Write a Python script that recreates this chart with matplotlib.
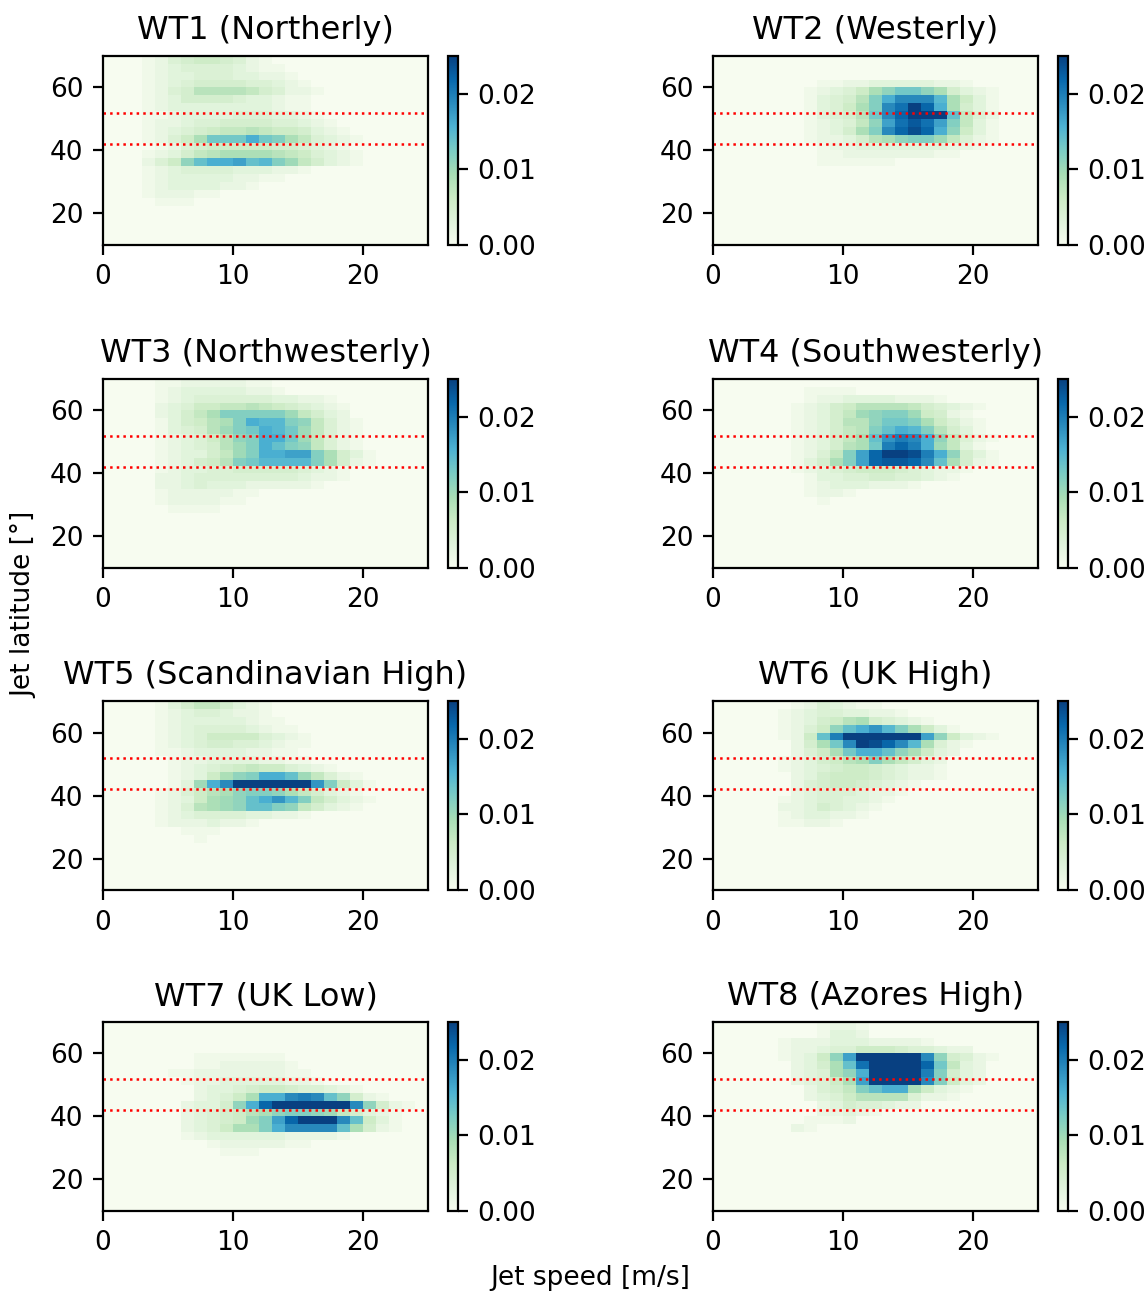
import numpy as np
import matplotlib.pyplot as plt

# jet speed bins (m/s) and jet latitude bins (deg, listed from the top row down)
speed_edges = np.arange(0, 26, 1)
lat_edges = np.arange(70, 7.5, -2.5)

titles = ["WT1 (Northerly)", "WT2 (Westerly)", "WT3 (Northwesterly)",
          "WT4 (Southwesterly)", "WT5 (Scandinavian High)", "WT6 (UK High)",
          "WT7 (UK Low)", "WT8 (Azores High)"]

# density per cell, in units of 0.001; rows run from 67.5-70N down to 10-12.5N
wt1 = [
    [0,0,0,1,2, 4,5,6,6,5, 4,2,1,0,0, 0,0,0,0,0, 0,0,0,0,0],
    [0,0,0,1,2, 3,4,4,4,4, 3,2,1,1,0, 0,0,0,0,0, 0,0,0,0,0],
    [0,0,0,1,2, 3,3,4,4,4, 3,3,2,2,1, 0,0,0,0,0, 0,0,0,0,0],
    [0,0,0,1,2, 3,4,5,5,5, 5,4,4,3,2, 1,0,0,0,0, 0,0,0,0,0],
    [0,0,0,1,2, 4,5,8,8,8, 8,7,5,4,2, 2,1,0,0,0, 0,0,0,0,0],
    [0,0,0,1,2, 3,5,5,5,5, 4,3,3,2,1, 1,0,0,0,0, 0,0,0,0,0],
    [0,0,0,1,2, 3,3,3,3,3, 3,3,3,2,1, 1,0,0,0,0, 0,0,0,0,0],
    [0,0,0,1,1, 2,3,3,3,3, 4,4,4,3,3, 2,1,0,0,0, 0,0,0,0,0],
    [0,0,0,1,2, 2,3,4,4,5, 5,5,5,4,4, 3,2,1,0,0, 0,0,0,0,0],
    [0,0,0,1,2, 3,4,5,6,7, 7,8,7,6,6, 5,3,2,1,0, 0,0,0,0,0],
    [0,0,0,1,2, 4,6,9,13,13, 13,16,13,12,9, 7,4,3,2,1, 0,0,0,0,0],
    [0,0,0,0,1, 2,4,5,6,6, 6,6,6,5,5, 4,3,2,1,0, 0,0,0,0,0],
    [0,0,0,1,2, 3,5,7,8,9, 9,9,9,8,7, 6,4,3,2,1, 0,0,0,0,0],
    [0,0,0,2,4, 6,11,14,16,16, 17,14,15,12,10, 7,5,3,2,1, 0,0,0,0,0],
    [0,0,0,1,2, 3,4,4,4,4, 3,3,3,2,2, 1,0,0,0,0, 0,0,0,0,0],
    [0,0,0,1,2, 3,3,3,3,3, 2,2,1,1,0, 0,0,0,0,0, 0,0,0,0,0],
    [0,0,0,1,2, 3,3,3,3,2, 2,1,0,0,0, 0,0,0,0,0, 0,0,0,0,0],
    [0,0,0,1,2, 2,2,1,1,0, 0,0,0,0,0, 0,0,0,0,0, 0,0,0,0,0],
    [0,0,0,0,1, 1,1,0,0,0, 0,0,0,0,0, 0,0,0,0,0, 0,0,0,0,0],
    [0,0,0,0,0, 0,0,0,0,0, 0,0,0,0,0, 0,0,0,0,0, 0,0,0,0,0],
    [0,0,0,0,0, 0,0,0,0,0, 0,0,0,0,0, 0,0,0,0,0, 0,0,0,0,0],
    [0,0,0,0,0, 0,0,0,0,0, 0,0,0,0,0, 0,0,0,0,0, 0,0,0,0,0],
    [0,0,0,0,0, 0,0,0,0,0, 0,0,0,0,0, 0,0,0,0,0, 0,0,0,0,0],
    [0,0,0,0,0, 0,0,0,0,0, 0,0,0,0,0, 0,0,0,0,0, 0,0,0,0,0],
]

wt2 = [
    [0,0,0,0,0, 0,0,0,0,0, 0,0,0,0,0, 0,0,0,0,0, 0,0,0,0,0],
    [0,0,0,0,0, 0,0,0,0,0, 0,0,0,0,0, 0,0,0,0,0, 0,0,0,0,0],
    [0,0,0,0,0, 0,0,0,0,0, 0,0,0,0,0, 0,0,0,0,0, 0,0,0,0,0],
    [0,0,0,0,0, 0,0,0,1,1, 2,2,3,3,3, 3,3,2,2,1, 0,0,0,0,0],
    [0,0,0,0,0, 0,0,1,2,3, 4,6,9,11,13, 13,11,9,5,3, 2,1,0,0,0],
    [0,0,0,0,0, 0,0,1,3,4, 5,8,12,16,19, 19,19,15,9,6, 3,1,0,0,0],
    [0,0,0,0,0, 0,0,1,3,4, 6,9,12,19,21, 26,22,16,9,5, 3,1,0,0,0],
    [0,0,0,0,0, 0,0,1,3,4, 5,8,13,19,22, 27,27,26,14,7, 4,2,0,0,0],
    [0,0,0,0,0, 0,0,1,2,3, 4,7,11,17,21, 23,21,17,12,7, 3,1,0,0,0],
    [0,0,0,0,0, 0,0,1,2,3, 5,9,12,19,22, 24,22,16,11,6, 3,1,0,0,0],
    [0,0,0,0,0, 0,0,1,2,2, 3,5,8,9,11, 12,12,10,7,4, 2,1,0,0,0],
    [0,0,0,0,0, 0,0,0,1,2, 2,3,3,3,3, 3,3,3,2,2, 1,0,0,0,0],
    [0,0,0,0,0, 0,0,0,1,1, 2,2,2,2,2, 2,2,1,1,0, 0,0,0,0,0],
    [0,0,0,0,0, 0,0,0,1,1, 1,1,1,1,0, 0,0,0,0,0, 0,0,0,0,0],
    [0,0,0,0,0, 0,0,0,0,0, 0,0,0,0,0, 0,0,0,0,0, 0,0,0,0,0],
    [0,0,0,0,0, 0,0,0,0,0, 0,0,0,0,0, 0,0,0,0,0, 0,0,0,0,0],
    [0,0,0,0,0, 0,0,0,0,0, 0,0,0,0,0, 0,0,0,0,0, 0,0,0,0,0],
    [0,0,0,0,0, 0,0,0,0,0, 0,0,0,0,0, 0,0,0,0,0, 0,0,0,0,0],
    [0,0,0,0,0, 0,0,0,0,0, 0,0,0,0,0, 0,0,0,0,0, 0,0,0,0,0],
    [0,0,0,0,0, 0,0,0,0,0, 0,0,0,0,0, 0,0,0,0,0, 0,0,0,0,0],
    [0,0,0,0,0, 0,0,0,0,0, 0,0,0,0,0, 0,0,0,0,0, 0,0,0,0,0],
    [0,0,0,0,0, 0,0,0,0,0, 0,0,0,0,0, 0,0,0,0,0, 0,0,0,0,0],
    [0,0,0,0,0, 0,0,0,0,0, 0,0,0,0,0, 0,0,0,0,0, 0,0,0,0,0],
    [0,0,0,0,0, 0,0,0,0,0, 0,0,0,0,0, 0,0,0,0,0, 0,0,0,0,0],
]

wt3 = [
    [0,0,0,0,1, 1,2,2,2,2, 2,1,1,0,0, 0,0,0,0,0, 0,0,0,0,0],
    [0,0,0,0,1, 2,3,3,3,3, 3,2,2,1,0, 0,0,0,0,0, 0,0,0,0,0],
    [0,0,0,0,1, 2,3,4,4,4, 4,4,4,3,3, 2,2,1,0,0, 0,0,0,0,0],
    [0,0,0,0,2, 3,4,6,6,7, 7,8,7,6,5, 4,3,2,1,0, 0,0,0,0,0],
    [0,0,0,0,2, 3,5,7,9,12, 12,12,12,12,10, 7,5,3,2,0, 0,0,0,0,0],
    [0,0,0,0,1, 3,5,6,8,9, 12,16,15,15,12, 11,7,4,2,1, 0,0,0,0,0],
    [0,0,0,0,1, 3,4,5,8,10, 12,13,16,15,13, 10,7,4,2,1, 0,0,0,0,0],
    [0,0,0,0,1, 2,3,4,6,8, 11,12,16,16,13, 10,7,4,2,1, 0,0,0,0,0],
    [0,0,0,0,1, 2,3,4,5,8, 10,12,16,14,12, 11,7,4,2,1, 0,0,0,0,0],
    [0,0,0,0,1, 2,3,3,5,7, 10,12,16,16,17, 17,12,9,5,3, 1,0,0,0,0],
    [0,0,0,0,1, 2,3,5,6,8, 12,13,15,15,15, 15,12,9,5,2, 1,0,0,0,0],
    [0,0,0,0,1, 2,3,3,4,4, 5,5,5,5,5, 4,3,2,1,0, 0,0,0,0,0],
    [0,0,0,0,2, 2,3,4,4,4, 4,4,4,4,4, 3,2,2,1,0, 0,0,0,0,0],
    [0,0,0,0,2, 2,3,4,3,3, 3,2,2,2,2, 2,1,0,0,0, 0,0,0,0,0],
    [0,0,0,0,1, 2,2,2,2,2, 1,1,0,0,0, 0,0,0,0,0, 0,0,0,0,0],
    [0,0,0,0,1, 2,2,2,2,1, 1,0,0,0,0, 0,0,0,0,0, 0,0,0,0,0],
    [0,0,0,0,0, 1,1,1,1,0, 0,0,0,0,0, 0,0,0,0,0, 0,0,0,0,0],
    [0,0,0,0,0, 0,0,0,0,0, 0,0,0,0,0, 0,0,0,0,0, 0,0,0,0,0],
    [0,0,0,0,0, 0,0,0,0,0, 0,0,0,0,0, 0,0,0,0,0, 0,0,0,0,0],
    [0,0,0,0,0, 0,0,0,0,0, 0,0,0,0,0, 0,0,0,0,0, 0,0,0,0,0],
    [0,0,0,0,0, 0,0,0,0,0, 0,0,0,0,0, 0,0,0,0,0, 0,0,0,0,0],
    [0,0,0,0,0, 0,0,0,0,0, 0,0,0,0,0, 0,0,0,0,0, 0,0,0,0,0],
    [0,0,0,0,0, 0,0,0,0,0, 0,0,0,0,0, 0,0,0,0,0, 0,0,0,0,0],
    [0,0,0,0,0, 0,0,0,0,0, 0,0,0,0,0, 0,0,0,0,0, 0,0,0,0,0],
]

wt4 = [
    [0,0,0,0,0, 0,0,0,0,0, 0,0,0,0,0, 0,0,0,0,0, 0,0,0,0,0],
    [0,0,0,0,0, 0,0,1,1,1, 1,0,0,0,0, 0,0,0,0,0, 0,0,0,0,0],
    [0,0,0,0,0, 0,0,1,2,2, 3,3,3,3,2, 2,2,1,0,0, 0,0,0,0,0],
    [0,0,0,0,0, 0,1,2,3,5, 6,8,8,8,8, 7,5,4,3,2, 1,0,0,0,0],
    [0,0,0,0,0, 0,1,2,3,5, 7,10,11,12,12, 10,6,5,2,1, 0,0,0,0,0],
    [0,0,0,0,0, 0,1,2,3,5, 8,8,11,13,13, 12,9,6,4,2, 1,0,0,0,0],
    [0,0,0,0,0, 0,1,2,3,5, 7,8,12,14,16, 15,12,8,5,3, 1,0,0,0,0],
    [0,0,0,0,0, 0,1,2,3,5, 7,9,14,18,20, 19,16,11,7,4, 2,1,0,0,0],
    [0,0,0,0,0, 0,1,2,3,5, 8,9,13,20,22, 20,16,10,7,3, 1,0,0,0,0],
    [0,0,0,0,0, 0,1,2,4,7, 12,17,22,26,27, 24,20,16,11,5, 3,1,0,0,0],
    [0,0,0,0,0, 0,1,3,5,9, 12,17,22,23,23, 22,19,14,9,5, 2,1,0,0,0],
    [0,0,0,0,0, 0,1,2,3,4, 5,6,6,6,5, 4,3,2,2,1, 0,0,0,0,0],
    [0,0,0,0,0, 0,0,1,3,3, 4,4,5,5,4, 4,3,2,1,0, 0,0,0,0,0],
    [0,0,0,0,0, 0,0,1,2,3, 3,3,2,2,2, 1,0,0,0,0, 0,0,0,0,0],
    [0,0,0,0,0, 0,0,1,2,2, 1,0,0,0,0, 0,0,0,0,0, 0,0,0,0,0],
    [0,0,0,0,0, 0,0,0,1,0, 0,0,0,0,0, 0,0,0,0,0, 0,0,0,0,0],
    [0,0,0,0,0, 0,0,0,0,0, 0,0,0,0,0, 0,0,0,0,0, 0,0,0,0,0],
    [0,0,0,0,0, 0,0,0,0,0, 0,0,0,0,0, 0,0,0,0,0, 0,0,0,0,0],
    [0,0,0,0,0, 0,0,0,0,0, 0,0,0,0,0, 0,0,0,0,0, 0,0,0,0,0],
    [0,0,0,0,0, 0,0,0,0,0, 0,0,0,0,0, 0,0,0,0,0, 0,0,0,0,0],
    [0,0,0,0,0, 0,0,0,0,0, 0,0,0,0,0, 0,0,0,0,0, 0,0,0,0,0],
    [0,0,0,0,0, 0,0,0,0,0, 0,0,0,0,0, 0,0,0,0,0, 0,0,0,0,0],
    [0,0,0,0,0, 0,0,0,0,0, 0,0,0,0,0, 0,0,0,0,0, 0,0,0,0,0],
    [0,0,0,0,0, 0,0,0,0,0, 0,0,0,0,0, 0,0,0,0,0, 0,0,0,0,0],
]

wt5 = [
    [0,0,0,0,1, 3,5,7,7,5, 3,2,1,0,0, 0,0,0,0,0, 0,0,0,0,0],
    [0,0,0,0,1, 2,3,4,4,3, 2,2,1,0,0, 0,0,0,0,0, 0,0,0,0,0],
    [0,0,0,0,1, 2,3,3,3,3, 3,2,1,1,0, 0,0,0,0,0, 0,0,0,0,0],
    [0,0,0,0,1, 2,3,4,4,4, 4,3,2,1,1, 0,0,0,0,0, 0,0,0,0,0],
    [0,0,0,0,1, 2,3,4,6,6, 6,6,4,3,2, 1,0,0,0,0, 0,0,0,0,0],
    [0,0,0,0,1, 2,3,4,5,5, 4,4,3,2,1, 1,0,0,0,0, 0,0,0,0,0],
    [0,0,0,0,1, 1,2,3,3,3, 3,2,2,1,1, 0,0,0,0,0, 0,0,0,0,0],
    [0,0,0,0,0, 1,2,2,3,3, 3,3,2,2,1, 1,0,0,0,0, 0,0,0,0,0],
    [0,0,0,0,0, 1,2,3,4,5, 6,7,6,6,4, 3,2,1,0,0, 0,0,0,0,0],
    [0,0,0,0,0, 1,2,3,6,9, 11,12,16,16,14, 10,7,4,2,1, 0,0,0,0,0],
    [0,0,0,0,0, 1,3,10,16,19, 25,26,26,26,26, 25,18,12,6,3, 1,0,0,0,0],
    [0,0,0,0,1, 2,4,6,8,9, 11,12,12,11,9, 7,5,3,2,1, 0,0,0,0,0],
    [0,0,0,0,1, 2,3,6,9,10, 11,14,16,18,15, 12,7,5,3,2, 1,0,0,0,0],
    [0,0,0,0,1, 2,4,8,9,10, 11,14,14,12,11, 7,5,3,2,1, 0,0,0,0,0],
    [0,0,0,0,1, 2,3,4,4,4, 4,3,3,2,2, 1,0,0,0,0, 0,0,0,0,0],
    [0,0,0,0,1, 2,2,2,3,2, 2,1,0,0,0, 0,0,0,0,0, 0,0,0,0,0],
    [0,0,0,0,0, 0,1,1,1,0, 0,0,0,0,0, 0,0,0,0,0, 0,0,0,0,0],
    [0,0,0,0,0, 0,0,1,0,0, 0,0,0,0,0, 0,0,0,0,0, 0,0,0,0,0],
    [0,0,0,0,0, 0,0,0,0,0, 0,0,0,0,0, 0,0,0,0,0, 0,0,0,0,0],
    [0,0,0,0,0, 0,0,0,0,0, 0,0,0,0,0, 0,0,0,0,0, 0,0,0,0,0],
    [0,0,0,0,0, 0,0,0,0,0, 0,0,0,0,0, 0,0,0,0,0, 0,0,0,0,0],
    [0,0,0,0,0, 0,0,0,0,0, 0,0,0,0,0, 0,0,0,0,0, 0,0,0,0,0],
    [0,0,0,0,0, 0,0,0,0,0, 0,0,0,0,0, 0,0,0,0,0, 0,0,0,0,0],
    [0,0,0,0,0, 0,0,0,0,0, 0,0,0,0,0, 0,0,0,0,0, 0,0,0,0,0],
]

wt6 = [
    [0,0,0,0,0, 0,1,2,4,3, 2,1,1,0,0, 0,0,0,0,0, 0,0,0,0,0],
    [0,0,0,0,0, 1,2,3,4,4, 3,3,2,2,1, 0,0,0,0,0, 0,0,0,0,0],
    [0,0,0,0,0, 1,2,3,5,6, 8,9,5,4,3, 2,1,0,0,0, 0,0,0,0,0],
    [0,0,0,0,0, 1,2,4,6,11, 14,16,18,15,12, 9,6,3,1,0, 0,0,0,0,0],
    [0,0,0,0,0, 1,2,6,14,20, 27,27,27,27,27, 27,17,11,6,3, 2,1,0,0,0],
    [0,0,0,0,0, 0,2,5,9,13, 19,25,24,22,19, 15,9,4,2,1, 0,0,0,0,0],
    [0,0,0,0,0, 0,2,4,6,9, 13,16,16,14,11, 9,6,3,2,0, 0,0,0,0,0],
    [0,0,0,0,0, 1,2,3,5,6, 8,9,12,9,7, 5,3,2,0,0, 0,0,0,0,0],
    [0,0,0,0,0, 1,2,3,4,5, 6,6,5,4,3, 2,2,1,0,0, 0,0,0,0,0],
    [0,0,0,0,0, 0,2,3,5,6, 6,6,5,4,3, 2,2,1,0,0, 0,0,0,0,0],
    [0,0,0,0,0, 0,2,4,5,6, 6,5,4,3,2, 1,0,0,0,0, 0,0,0,0,0],
    [0,0,0,0,0, 0,2,3,4,4, 4,3,2,2,1, 0,0,0,0,0, 0,0,0,0,0],
    [0,0,0,0,0, 1,2,3,4,4, 3,3,2,1,0, 0,0,0,0,0, 0,0,0,0,0],
    [0,0,0,0,0, 2,2,3,5,4, 3,2,1,0,0, 0,0,0,0,0, 0,0,0,0,0],
    [0,0,0,0,0, 1,2,3,3,2, 2,1,0,0,0, 0,0,0,0,0, 0,0,0,0,0],
    [0,0,0,0,0, 1,1,2,2,1, 0,0,0,0,0, 0,0,0,0,0, 0,0,0,0,0],
    [0,0,0,0,0, 0,0,0,0,0, 0,0,0,0,0, 0,0,0,0,0, 0,0,0,0,0],
    [0,0,0,0,0, 0,0,0,0,0, 0,0,0,0,0, 0,0,0,0,0, 0,0,0,0,0],
    [0,0,0,0,0, 0,0,0,0,0, 0,0,0,0,0, 0,0,0,0,0, 0,0,0,0,0],
    [0,0,0,0,0, 0,0,0,0,0, 0,0,0,0,0, 0,0,0,0,0, 0,0,0,0,0],
    [0,0,0,0,0, 0,0,0,0,0, 0,0,0,0,0, 0,0,0,0,0, 0,0,0,0,0],
    [0,0,0,0,0, 0,0,0,0,0, 0,0,0,0,0, 0,0,0,0,0, 0,0,0,0,0],
    [0,0,0,0,0, 0,0,0,0,0, 0,0,0,0,0, 0,0,0,0,0, 0,0,0,0,0],
    [0,0,0,0,0, 0,0,0,0,0, 0,0,0,0,0, 0,0,0,0,0, 0,0,0,0,0],
]

wt7 = [
    [0,0,0,0,0, 0,0,0,0,0, 0,0,0,0,0, 0,0,0,0,0, 0,0,0,0,0],
    [0,0,0,0,0, 0,0,0,0,0, 0,0,0,0,0, 0,0,0,0,0, 0,0,0,0,0],
    [0,0,0,0,0, 0,0,0,0,0, 0,0,0,0,0, 0,0,0,0,0, 0,0,0,0,0],
    [0,0,0,0,0, 0,0,0,0,0, 0,0,0,0,0, 0,0,0,0,0, 0,0,0,0,0],
    [0,0,0,0,0, 0,0,1,1,1, 1,1,1,1,0, 0,0,0,0,0, 0,0,0,0,0],
    [0,0,0,0,0, 0,0,1,1,2, 2,2,2,2,1, 0,0,0,0,0, 0,0,0,0,0],
    [0,0,0,0,0, 1,1,2,2,2, 2,2,2,2,1, 1,0,0,0,0, 0,0,0,0,0],
    [0,0,0,0,0, 0,1,2,2,3, 3,3,3,3,2, 2,1,0,0,0, 0,0,0,0,0],
    [0,0,0,0,0, 0,0,2,3,3, 4,5,6,6,5, 4,4,3,2,1, 0,0,0,0,0],
    [0,0,0,0,0, 0,0,2,3,4, 6,9,16,16,19, 20,19,14,11,5, 2,1,0,0,0],
    [0,0,0,0,0, 0,2,3,3,5, 11,16,22,27,27, 27,27,27,27,19, 11,5,2,1,0],
    [0,0,0,0,0, 0,2,3,4,5, 6,8,9,11,12, 12,11,10,7,5, 3,2,1,0,0],
    [0,0,0,0,0, 0,2,3,4,5, 6,10,12,17,22, 27,27,27,19,14, 6,3,1,0,0],
    [0,0,0,0,0, 0,2,3,4,6, 9,9,12,16,19, 19,19,19,14,9, 5,2,1,0,0],
    [0,0,0,0,0, 0,1,2,3,3, 3,3,3,3,2, 2,2,2,1,0, 0,0,0,0,0],
    [0,0,0,0,0, 0,0,0,1,2, 2,2,2,2,1, 1,0,0,0,0, 0,0,0,0,0],
    [0,0,0,0,0, 0,0,0,0,1, 1,1,0,0,0, 0,0,0,0,0, 0,0,0,0,0],
    [0,0,0,0,0, 0,0,0,0,0, 0,0,0,0,0, 0,0,0,0,0, 0,0,0,0,0],
    [0,0,0,0,0, 0,0,0,0,0, 0,0,0,0,0, 0,0,0,0,0, 0,0,0,0,0],
    [0,0,0,0,0, 0,0,0,0,0, 0,0,0,0,0, 0,0,0,0,0, 0,0,0,0,0],
    [0,0,0,0,0, 0,0,0,0,0, 0,0,0,0,0, 0,0,0,0,0, 0,0,0,0,0],
    [0,0,0,0,0, 0,0,0,0,0, 0,0,0,0,0, 0,0,0,0,0, 0,0,0,0,0],
    [0,0,0,0,0, 0,0,0,0,0, 0,0,0,0,0, 0,0,0,0,0, 0,0,0,0,0],
    [0,0,0,0,0, 0,0,0,0,0, 0,0,0,0,0, 0,0,0,0,0, 0,0,0,0,0],
]

wt8 = [
    [0,0,0,0,0, 0,0,0,1,2, 2,1,0,0,0, 0,0,0,0,0, 0,0,0,0,0],
    [0,0,0,0,0, 0,0,0,1,3, 3,2,0,0,0, 0,0,0,0,0, 0,0,0,0,0],
    [0,0,0,0,0, 1,2,2,2,3, 3,3,2,2,2, 2,1,0,0,0, 0,0,0,0,0],
    [0,0,0,0,0, 1,2,2,3,4, 4,6,6,6,5, 4,4,3,2,2, 0,0,0,0,0],
    [0,0,0,0,0, 1,2,3,6,11, 17,27,27,27,27, 27,19,11,5,4, 2,1,0,0,0],
    [0,0,0,0,0, 0,2,3,5,9, 14,21,27,27,27, 27,22,13,7,3, 2,0,0,0,0],
    [0,0,0,0,0, 0,2,3,4,9, 11,16,27,27,27, 27,20,12,5,3, 2,0,0,0,0],
    [0,0,0,0,0, 0,2,3,4,6, 9,17,26,27,27, 27,19,12,6,3, 2,0,0,0,0],
    [0,0,0,0,0, 0,0,2,4,5, 7,12,14,16,16, 9,6,3,2,1, 0,0,0,0,0],
    [0,0,0,0,0, 0,0,2,3,4, 6,8,8,8,8, 4,2,2,1,0, 0,0,0,0,0],
    [0,0,0,0,0, 0,0,0,2,3, 5,4,4,3,2, 2,0,0,0,0, 0,0,0,0,0],
    [0,0,0,0,0, 0,0,0,2,2, 3,2,1,0,0, 0,0,0,0,0, 0,0,0,0,0],
    [0,0,0,0,0, 0,0,1,1,1, 2,0,0,0,0, 0,0,0,0,0, 0,0,0,0,0],
    [0,0,0,0,0, 0,2,1,0,0, 0,0,0,0,0, 0,0,0,0,0, 0,0,0,0,0],
    [0,0,0,0,0, 0,0,0,0,0, 0,0,0,0,0, 0,0,0,0,0, 0,0,0,0,0],
    [0,0,0,0,0, 0,0,0,0,0, 0,0,0,0,0, 0,0,0,0,0, 0,0,0,0,0],
    [0,0,0,0,0, 0,0,0,0,0, 0,0,0,0,0, 0,0,0,0,0, 0,0,0,0,0],
    [0,0,0,0,0, 0,0,0,0,0, 0,0,0,0,0, 0,0,0,0,0, 0,0,0,0,0],
    [0,0,0,0,0, 0,0,0,0,0, 0,0,0,0,0, 0,0,0,0,0, 0,0,0,0,0],
    [0,0,0,0,0, 0,0,0,0,0, 0,0,0,0,0, 0,0,0,0,0, 0,0,0,0,0],
    [0,0,0,0,0, 0,0,0,0,0, 0,0,0,0,0, 0,0,0,0,0, 0,0,0,0,0],
    [0,0,0,0,0, 0,0,0,0,0, 0,0,0,0,0, 0,0,0,0,0, 0,0,0,0,0],
    [0,0,0,0,0, 0,0,0,0,0, 0,0,0,0,0, 0,0,0,0,0, 0,0,0,0,0],
    [0,0,0,0,0, 0,0,0,0,0, 0,0,0,0,0, 0,0,0,0,0, 0,0,0,0,0],
]

grids = [wt1, wt2, wt3, wt4, wt5, wt6, wt7, wt8]
lat_bounds = [42, 52]

fig = plt.figure(figsize=(5.74, 6.46), dpi=200)

col_left = [0.0897, 0.6211]
cbar_left = [0.3902, 0.9216]
row_bottom = [0.8104, 0.5604, 0.3111, 0.0627]
ax_w, ax_h = 0.2831, 0.1463

for i, (grid, title) in enumerate(zip(grids, titles)):
    r, c = divmod(i, 2)
    ax = fig.add_axes([col_left[c], row_bottom[r], ax_w, ax_h])
    dens = np.array(grid, dtype=float) / 1000.0
    mesh = ax.pcolormesh(speed_edges, lat_edges, dens, cmap='GnBu',
                         vmin=0, vmax=0.025)
    for lat in lat_bounds:
        ax.axhline(lat, color='red', linestyle=':', linewidth=0.9)
    ax.set_xlim(0, 25)
    ax.set_ylim(10, 70)
    ax.set_xticks([0, 10, 20])
    ax.set_yticks([20, 40, 60])
    ax.tick_params(labelsize=9.5)
    ax.set_title(title, fontsize=11.5)

    cax = fig.add_axes([cbar_left[c], row_bottom[r], 0.0087, ax_h])
    cb = fig.colorbar(mesh, cax=cax, ticks=[0, 0.01, 0.02])
    cb.ax.tick_params(labelsize=9.5)

fig.text(0.021, 0.532, 'Jet latitude [°]', rotation=90, ha='center',
         va='center', fontsize=9.5)
fig.text(0.514, 0.011, 'Jet speed [m/s]', ha='center', va='center',
         fontsize=9.5)

fig.savefig('out.png', dpi=200)
